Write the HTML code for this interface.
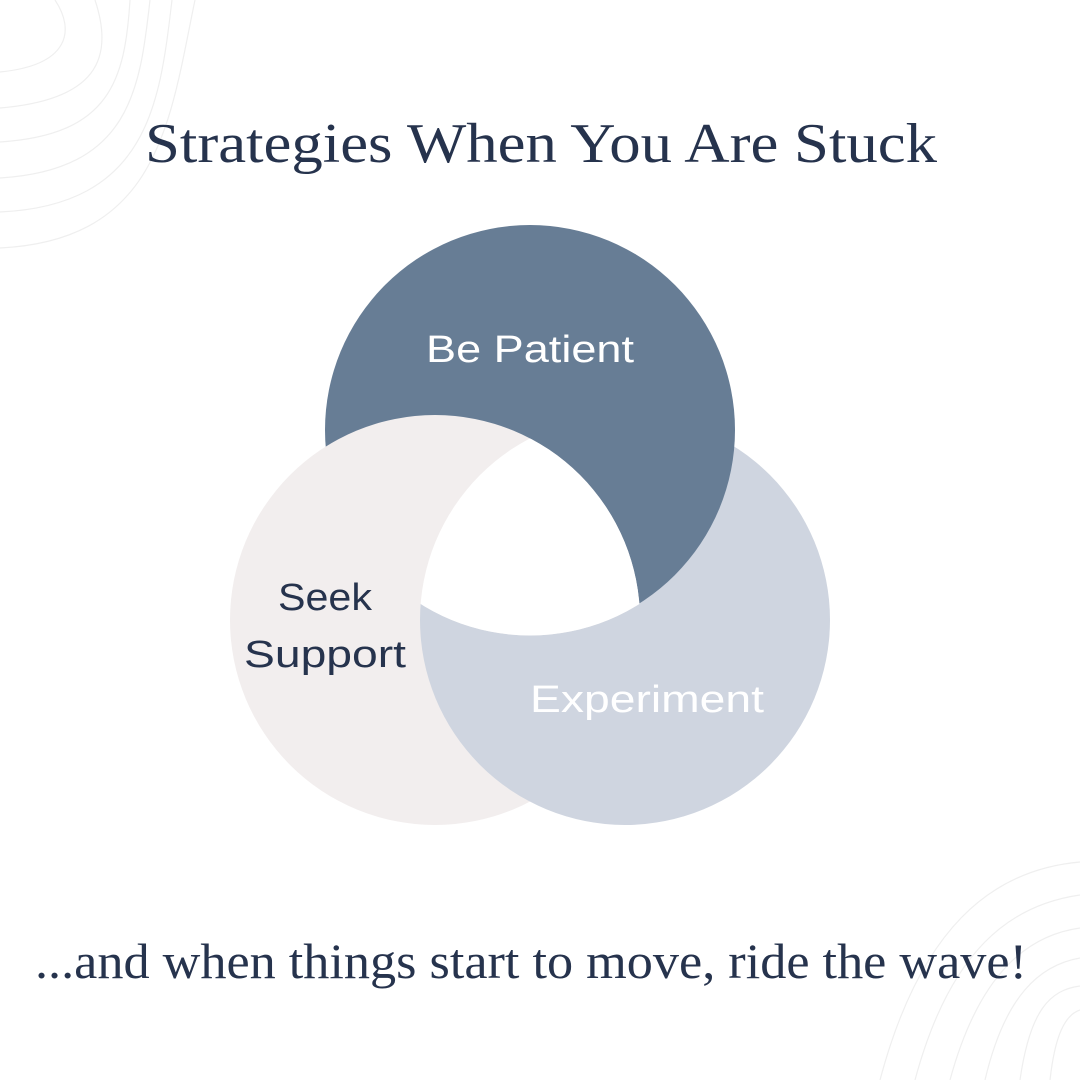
<!DOCTYPE html>
<html><head><meta charset="utf-8"><style>html,body{margin:0;padding:0;background:#fff}svg{display:block}</style></head>
<body>
<svg width="1080" height="1080" viewBox="0 0 1080 1080" xmlns="http://www.w3.org/2000/svg">
<defs>
<clipPath id="ct"><circle cx="530" cy="430" r="205.5"/></clipPath>
<clipPath id="cr"><circle cx="625" cy="620" r="205"/></clipPath>
</defs>
<rect width="1080" height="1080" fill="#fff"/>
<g fill="none" stroke="#efefef" stroke-width="1.2">
<path d="M55 0 C75 30 70 65 0 72"/>
<path d="M95 0 C115 60 95 100 0 108"/>
<path d="M130 0 C125 80 110 135 0 142"/>
<path d="M150 0 C140 90 130 170 0 178"/>
<path d="M172 0 C160 100 150 205 0 212"/>
<path d="M195 0 C170 120 160 240 0 248"/>
<path d="M1080 862 C990 870 920 930 880 1080"/>
<path d="M1080 895 C1010 905 950 950 915 1080"/>
<path d="M1080 928 C1030 935 980 970 950 1080"/>
<path d="M1080 958 C1040 965 1005 995 985 1080"/>
<path d="M1080 986 C1050 990 1030 1010 1020 1080"/>
<path d="M1080 1010 C1065 1015 1055 1035 1050 1080"/>
</g>
<text x="145" y="162" font-family="Liberation Serif, serif" font-size="56" fill="#26334d" textLength="792" lengthAdjust="spacingAndGlyphs">Strategies When You Are Stuck</text>
<circle cx="435" cy="620" r="205" fill="#f2eeee"/>
<circle cx="625" cy="620" r="205" fill="#cfd5e0"/>
<circle cx="530" cy="430" r="205" fill="#677d95"/>
<circle cx="435" cy="620" r="205" fill="#f2eeee" clip-path="url(#ct)"/>
<g clip-path="url(#ct)"><circle cx="435" cy="620" r="205" fill="#fff" clip-path="url(#cr)"/></g>
<g font-family="Liberation Sans, sans-serif" font-size="38">
<text x="426" y="362" fill="#fff" textLength="208" lengthAdjust="spacingAndGlyphs">Be Patient</text>
<text x="278" y="610" fill="#26334d" textLength="94" lengthAdjust="spacingAndGlyphs">Seek</text>
<text x="244" y="667" fill="#26334d" textLength="162" lengthAdjust="spacingAndGlyphs">Support</text>
<text x="530" y="712" fill="#fff" textLength="234" lengthAdjust="spacingAndGlyphs">Experiment</text>
</g>
<text x="35" y="978" font-family="Liberation Serif, serif" font-size="50" fill="#26334d" textLength="992" lengthAdjust="spacingAndGlyphs">...and when things start to move, ride the wave!</text>
</svg>
</body></html>
